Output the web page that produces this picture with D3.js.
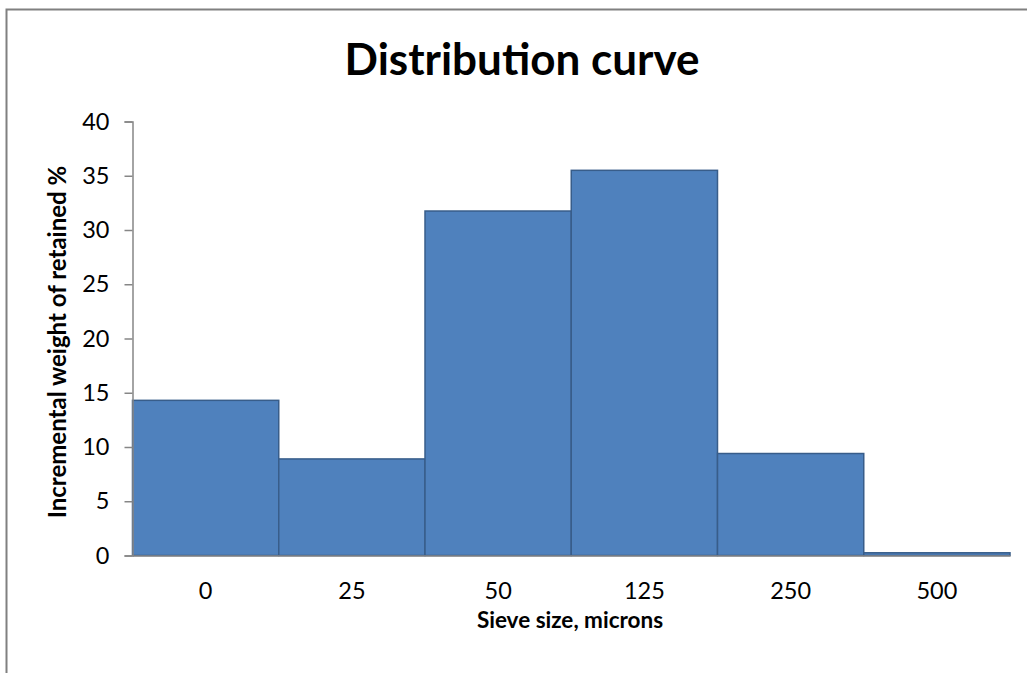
<!DOCTYPE html>
<html>
<head>
<meta charset="utf-8">
<script src="https://cdn.jsdelivr.net/npm/d3@7"></script>
<style>
  body { margin: 0; background: #fff; }
  svg { display: block; font-family: Lato, "Open Sans", sans-serif; }
</style>
</head>
<body>
<svg id="chart"></svg>
<script>
// Sieve sizes (category labels) and incremental weight retained, %
const sieveSizes = ["0", "25", "50", "125", "250", "500"];
const retained = [14.3, 8.9, 31.75, 35.5, 9.4, 0.25];
const yTicks = [0, 5, 10, 15, 20, 25, 30, 35, 40];

const svgWidth = 1027;
const svgHeight = 673;
const margin = { top: 121.5, right: 17, bottom: 117.5, left: 132.5 };
const width = svgWidth - margin.left - margin.right;
const height = svgHeight - margin.top - margin.bottom;

const root = d3.select("#chart")
    .attr("width", svgWidth)
    .attr("height", svgHeight);

// Outer chart frame (runs off the right and bottom edges)
root.append("rect")
    .attr("x", 6.5)
    .attr("y", 9.5)
    .attr("width", svgWidth + 10)
    .attr("height", svgHeight + 10)
    .attr("fill", "none")
    .attr("stroke", "#808080")
    .attr("stroke-width", 2);

const svg = root.append("g")
    .attr("transform", `translate(${margin.left},${margin.top})`);

const x = d3.scaleBand()
    .domain(sieveSizes)
    .range([0, width])
    .padding(0);

const y = d3.scaleLinear()
    .domain([0, 40])
    .range([height, 0]);

// Bars
svg.append("g")
    .selectAll("rect")
    .data(retained)
    .join("rect")
    .attr("x", (d, i) => x(sieveSizes[i]))
    .attr("y", d => y(d))
    .attr("width", x.bandwidth())
    .attr("height", d => y(0) - y(d))
    .attr("fill", "#4F81BD")
    .attr("stroke", "#385D8A")
    .attr("stroke-width", 1.5);

// Y axis
const yAxis = svg.append("g")
    .call(d3.axisLeft(y)
        .tickValues(yTicks)
        .tickSize(8)
        .tickPadding(15)
        .tickFormat(d3.format("d")));
yAxis.select(".domain").attr("stroke", "#868686").attr("stroke-width", 1.5);
yAxis.selectAll(".tick line").attr("stroke", "#868686").attr("stroke-width", 1.5);
yAxis.selectAll(".tick text")
    .attr("font-size", 23.5)
    .attr("font-family", "Lato, sans-serif")
    .attr("fill", "#000");

// X axis
const xAxis = svg.append("g")
    .attr("transform", `translate(0,${height})`)
    .call(d3.axisBottom(x).tickSize(0).tickPadding(27));
xAxis.select(".domain").attr("stroke", "#868686").attr("stroke-width", 1.5);
xAxis.selectAll(".tick text")
    .attr("font-size", 23.5)
    .attr("font-family", "Lato, sans-serif")
    .attr("fill", "#000");

// Title
root.append("text")
    .attr("x", 522)
    .attr("y", 75)
    .attr("text-anchor", "middle")
    .attr("font-size", 44)
    .attr("font-weight", "bold")
    .attr("fill", "#000")
    .text("Distribution curve");

// X axis title
root.append("text")
    .attr("x", 570)
    .attr("y", 628)
    .attr("text-anchor", "middle")
    .attr("font-size", 22.5)
    .attr("font-weight", "bold")
    .attr("fill", "#000")
    .text("Sieve size, microns");

// Y axis title
root.append("text")
    .attr("transform", "rotate(-90)")
    .attr("x", -342)
    .attr("y", 66)
    .attr("text-anchor", "middle")
    .attr("font-size", 24)
    .attr("font-weight", "bold")
    .attr("fill", "#000")
    .text("Incremental weight of retained %");
</script>
</body>
</html>
